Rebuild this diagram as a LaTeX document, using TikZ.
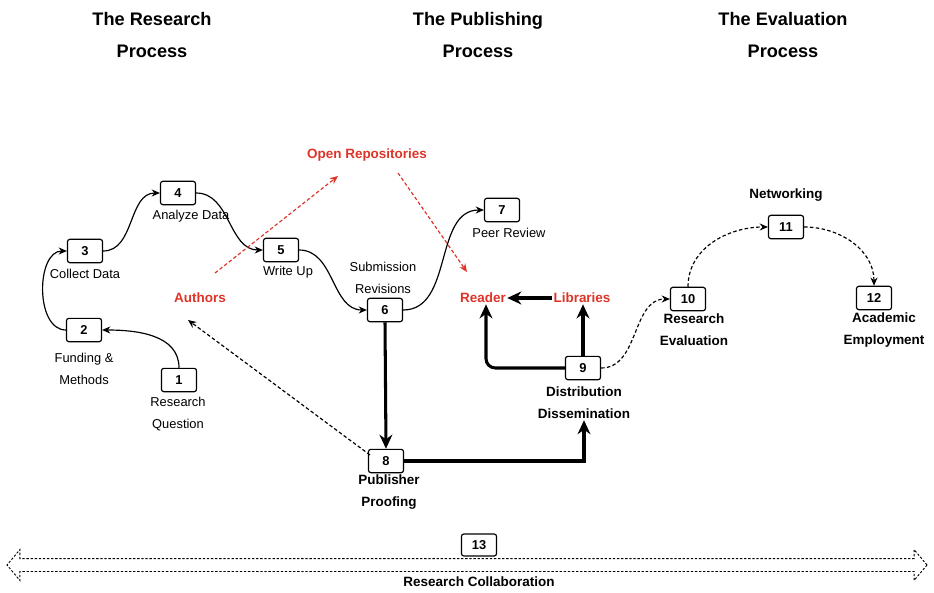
\documentclass[tikz,border=0pt]{standalone}
\usepackage{fontspec}
\setmainfont{Liberation Sans}
\usetikzlibrary{arrows.meta,shapes.arrows}
\definecolor{repoRed}{RGB}{222,52,40}

\begin{document}
\begin{tikzpicture}[x=0.03cm, y=-0.03cm,
  boxStyle/.style={rectangle, draw, rounded corners=2pt, line width=1pt, minimum width=1.05cm, minimum height=0.7cm, inner sep=1pt, font=\fontsize{11}{13}\selectfont\bfseries},
  textStyle/.style={align=center, inner sep=1pt, font=\fontsize{11}{18.5}\selectfont},
  boldStyle/.style={align=center, inner sep=1pt, font=\fontsize{11.5}{18.5}\selectfont\bfseries},
  redStyle/.style={boldStyle, text=repoRed},
  headStyle/.style={align=center, font=\fontsize{15.5}{27}\selectfont\bfseries},
  flowArrow/.style={-{Stealth[length=7pt,width=6pt]}, line width=1pt},
  mainArrow/.style={-{Stealth[length=12pt,width=11pt]}, line width=2.6pt},
  evalArrow/.style={flowArrow, dash pattern=on 3pt off 2pt},
  repoArrow/.style={flowArrow, dash pattern=on 3pt off 2pt, repoRed}]
    \useasboundingbox (0,0) rectangle (934,592);

    % headings
    \node[headStyle] (head_R) at (152,35) {The Research\\Process};
    \node[headStyle] (head_P) at (478,35) {The Publishing\\Process};
    \node[headStyle] (head_E) at (783,35) {The Evaluation\\Process};

    % numbered steps
    \node[boxStyle] (n_1)  at (179,380) {1};
    \node[boxStyle] (n_2)  at ( 84,330) {2};
    \node[boxStyle] (n_3)  at ( 85,251) {3};
    \node[boxStyle] (n_4)  at (178,193) {4};
    \node[boxStyle] (n_5)  at (281,250) {5};
    \node[boxStyle] (n_6)  at (385,310) {6};
    \node[boxStyle] (n_7)  at (502,210) {7};
    \node[boxStyle] (n_8)  at (386,461) {8};
    \node[boxStyle] (n_9)  at (583,368) {9};
    \node[boxStyle] (n_10) at (688,299) {10};
    \node[boxStyle] (n_11) at (786,227) {11};
    \node[boxStyle] (n_12) at (874,298) {12};

    % step labels
    \node[textStyle] (lab_1) at (178,414) {Research\\Question};
    \node[textStyle] (lab_2) at ( 84,369) {Funding \&\\Methods};
    \node[textStyle] (lab_3) at ( 85,274) {Collect Data};
    \node[textStyle] (lab_4) at (191,216) {Analyze Data};
    \node[textStyle] (lab_5) at (288,272) {Write Up};
    \node[textStyle] (lab_6) at (383,278) {Submission\\Revisions};
    \node[textStyle] (lab_7) at (509,233) {Peer Review};
    \node[boldStyle] (lab_8) at (389,492) {Publisher\\Proofing};
    \node[boldStyle] (lab_9) at (584,403) {Distribution\\Dissemination};
    \node[boldStyle] (lab_10) at (694,330) {Research\\Evaluation};
    \node[boldStyle] (lab_11) at (786,195) {Networking};
    \node[boldStyle] (lab_12) at (884,330) {Academic\\Employment};

    % actors
    \node[redStyle] (authors)   at (200,298) {Authors};
    \node[redStyle] (repo)      at (367,155) {Open Repositories};
    \node[redStyle] (reader)    at (483,298) {Reader};
    \node[redStyle] (libraries) at (582,298) {Libraries};

    % research flow
    \draw[flowArrow] (n_1.north) to[out=90,in=0] (n_2.east);
    \draw[flowArrow] (n_2.west) to[out=180,in=180] (n_3.west);
    \draw[flowArrow] (n_3.east) to[out=0,in=180] (n_4.west);
    \draw[flowArrow] (n_4.east) to[out=0,in=180] (n_5.west);
    \draw[flowArrow] (n_5.east) to[out=0,in=180] (n_6.west);
    \draw[flowArrow] (n_6.east) to[out=0,in=180] (n_7.west);

    % publishing flow
    \draw[mainArrow] (n_6.south) -- (n_8.north);
    \draw[mainArrow] (n_8.east) -| (lab_9.south);
    \draw[mainArrow, rounded corners=8pt] (n_9.west) -| ([xshift=0.09cm]reader.south);
    \draw[mainArrow] (n_9.north) -- (n_9.north |- libraries.south);
    \draw[mainArrow] (libraries.west) -- (reader.east);
    \draw[evalArrow] ([shift={(-16,-6)}]n_8.center) -- ([shift={(-12,22)}]authors.center);

    % open access
    \draw[repoArrow] ([shift={(15,-25)}]authors.center) -- ([shift={(-29,21)}]repo.center);
    \draw[repoArrow] ([shift={(31,18)}]repo.center) -- ([shift={(-16,-26)}]reader.center);

    % evaluation flow
    \draw[evalArrow] (n_9.east) to[out=0,in=180] (n_10.west);
    \draw[evalArrow] (n_10.north) to[out=90,in=180] (n_11.west);
    \draw[evalArrow] (n_11.east) to[out=0,in=90] (n_12.north);

    % collaboration
    \node[double arrow, draw, dash pattern=on 2pt off 1.5pt, line width=0.8pt, minimum height=27.6cm,
          double arrow head extend=0.27cm, double arrow tip angle=100, inner xsep=0pt, inner ysep=0.18cm] (collab) at (467,565) {};
    \node[boxStyle, minimum height=0.66cm] (n_13) at (479,545) {13};
    \node[boldStyle] (lab_13) at (479,582) {Research Collaboration};
\end{tikzpicture}
\end{document}
